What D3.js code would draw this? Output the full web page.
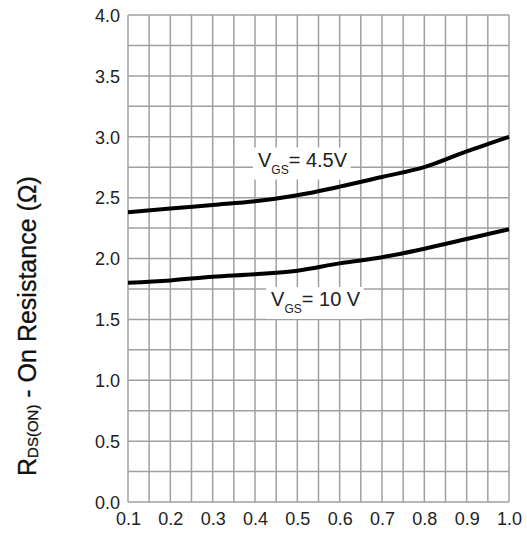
<!DOCTYPE html>
<html>
<head>
<meta charset="utf-8">
<script src="https://cdn.jsdelivr.net/npm/d3@7"></script>
<style>
  body { margin: 0; background: #fff; }
  text { font-family: "Liberation Sans", Arial, sans-serif; fill: #222; }
</style>
</head>
<body>
<div class="canvas"></div>
<script>
// data
const drainCurrent = [0.1, 0.2, 0.3, 0.4, 0.5, 0.6, 0.7, 0.8, 0.9, 1.0];
const rdsVgs45 = [2.38, 2.41, 2.44, 2.47, 2.52, 2.59, 2.67, 2.75, 2.88, 3.00];
const rdsVgs10 = [1.80, 1.82, 1.85, 1.87, 1.90, 1.96, 2.01, 2.08, 2.16, 2.24];
const xTicks = [0.1, 0.2, 0.3, 0.4, 0.5, 0.6, 0.7, 0.8, 0.9, 1.0];
const yTicks = [0.0, 0.5, 1.0, 1.5, 2.0, 2.5, 3.0, 3.5, 4.0];
const labels = [
  { sub: 'GS', main: 'V', rest: '= 4.5V', x: 0.407, y: 2.755 },
  { sub: 'GS', main: 'V', rest: '= 10 V', x: 0.438, y: 1.61 }
];

const dims = { width: 527, height: 533 };
const margin = { top: 15, right: 18, bottom: 31, left: 128 };
const w = dims.width - margin.left - margin.right;
const h = dims.height - margin.top - margin.bottom;

const svg = d3.select('.canvas')
  .append('svg')
    .attr('width', dims.width)
    .attr('height', dims.height);

const graph = svg.append('g')
  .attr('transform', `translate(${margin.left}, ${margin.top})`);

// scales
const x = d3.scaleLinear().domain([0.1, 1.0]).range([0, w]);
const y = d3.scaleLinear().domain([0, 4]).range([h, 0]);

// grid
const gridColor = '#a0a0a0';
const xGrid = d3.range(0.1, 1.0001, 0.05);
const yGrid = d3.range(0, 4.0001, 0.25);

graph.append('g')
  .selectAll('line')
  .data(xGrid)
  .enter().append('line')
    .attr('x1', d => x(d)).attr('x2', d => x(d))
    .attr('y1', 0).attr('y2', h)
    .attr('stroke', gridColor)
    .attr('stroke-width', 1.5);

graph.append('g')
  .selectAll('line')
  .data(yGrid)
  .enter().append('line')
    .attr('x1', 0).attr('x2', w)
    .attr('y1', d => y(d)).attr('y2', d => y(d))
    .attr('stroke', gridColor)
    .attr('stroke-width', 1.5);

// axes (labels only)
const xAxis = d3.axisBottom(x).tickValues(xTicks).tickSize(0).tickPadding(10)
  .tickFormat(d3.format('.1f'));
const yAxis = d3.axisLeft(y).tickValues(yTicks).tickSize(0).tickPadding(8)
  .tickFormat(d3.format('.1f'));

const gx = graph.append('g')
  .attr('transform', `translate(0, ${h})`)
  .call(xAxis);
const gy = graph.append('g').call(yAxis);

[gx, gy].forEach(g => {
  g.select('.domain').remove();
  g.selectAll('text')
    .style('font-family', '"Liberation Sans", Arial, sans-serif')
    .style('font-size', '18px')
    .attr('fill', '#222');
});
gy.selectAll('text').attr('dy', '0.35em');

// curves
const line = d3.line()
  .x((d, i) => x(drainCurrent[i]))
  .y(d => y(d))
  .curve(d3.curveMonotoneX);

[rdsVgs45, rdsVgs10].forEach(series => {
  graph.append('path')
    .datum(series)
    .attr('fill', 'none')
    .attr('stroke', '#000')
    .attr('stroke-width', 4)
    .attr('d', line);
});

// curve labels with white boxes
labels.forEach(l => {
  const g = graph.append('g');
  const rect = g.append('rect').attr('fill', '#fff');
  const t = g.append('text')
    .attr('x', x(l.x))
    .attr('y', y(l.y))
    .style('font-size', '20px');
  t.append('tspan').text(l.main);
  t.append('tspan').text(l.sub)
    .style('font-size', '12px')
    .attr('dy', 7);
  t.append('tspan').text(l.rest)
    .attr('dy', -7);
  const bb = t.node().getBBox();
  rect.attr('x', bb.x - 5)
    .attr('y', bb.y - 1)
    .attr('width', bb.width + 8)
    .attr('height', bb.height + 4);
});

// y axis title
const title = svg.append('text')
  .attr('transform', 'translate(36, 476) rotate(-90)')
  .style('font-size', '25px')
  .style('fill', '#111')
  .style('stroke', '#111')
  .style('stroke-width', 0.3);
title.append('tspan').text('R');
title.append('tspan').text('DS(ON)')
  .style('font-size', '15px')
  .attr('dy', 2);
title.append('tspan').text(' - On Resistance (Ω)')
  .attr('dy', -2);
</script>
</body>
</html>
